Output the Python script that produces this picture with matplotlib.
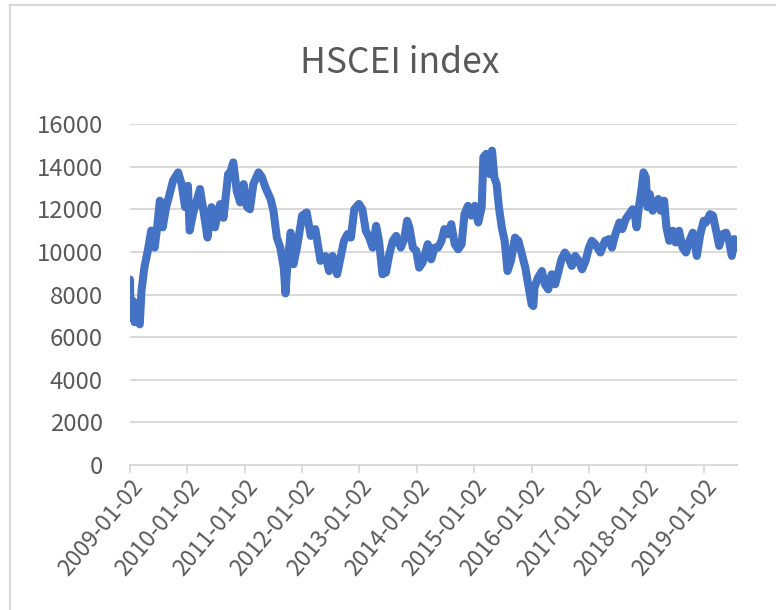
import matplotlib
matplotlib.use("Agg")
import matplotlib.pyplot as plt
from matplotlib.lines import Line2D

# HSCEI daily close (decimal year, index level)
years = [
    2009.00, 2009.01, 2009.05, 2009.08, 2009.11, 2009.14, 2009.17, 2009.20, 2009.25, 2009.31,
    2009.37, 2009.43, 2009.47, 2009.52, 2009.55, 2009.57, 2009.63, 2009.69, 2009.75, 2009.84,
    2009.90, 2009.96, 2010.01, 2010.04, 2010.10, 2010.22, 2010.28, 2010.35, 2010.42, 2010.48,
    2010.57, 2010.63, 2010.71, 2010.74, 2010.80, 2010.86, 2010.92, 2010.98, 2011.04, 2011.09,
    2011.15, 2011.24, 2011.30, 2011.36, 2011.45, 2011.50, 2011.56, 2011.62, 2011.68, 2011.71,
    2011.74, 2011.80, 2011.85, 2011.91, 2012.00, 2012.08, 2012.15, 2012.23, 2012.32, 2012.41,
    2012.47, 2012.53, 2012.58, 2012.61, 2012.67, 2012.73, 2012.79, 2012.85, 2012.91, 2012.99,
    2013.05, 2013.11, 2013.17, 2013.23, 2013.29, 2013.34, 2013.40, 2013.46, 2013.52, 2013.58,
    2013.64, 2013.72, 2013.78, 2013.83, 2013.87, 2013.93, 2013.99, 2014.04, 2014.10, 2014.19,
    2014.25, 2014.31, 2014.37, 2014.43, 2014.48, 2014.54, 2014.60, 2014.66, 2014.72, 2014.78,
    2014.83, 2014.89, 2014.95, 2015.01, 2015.07, 2015.13, 2015.16, 2015.21, 2015.27, 2015.31,
    2015.35, 2015.39, 2015.43, 2015.48, 2015.53, 2015.58, 2015.64, 2015.71, 2015.77, 2015.83,
    2015.89, 2015.94, 2016.00, 2016.03, 2016.05, 2016.11, 2016.18, 2016.23, 2016.29, 2016.35,
    2016.41, 2016.47, 2016.52, 2016.58, 2016.64, 2016.70, 2016.76, 2016.82, 2016.88, 2016.94,
    2017.00, 2017.05, 2017.11, 2017.20, 2017.28, 2017.35, 2017.40, 2017.46, 2017.53, 2017.58,
    2017.64, 2017.70, 2017.76, 2017.79, 2017.83, 2017.87, 2017.92, 2017.95, 2017.99, 2018.02,
    2018.06, 2018.11, 2018.16, 2018.21, 2018.25, 2018.31, 2018.35, 2018.40, 2018.46, 2018.51,
    2018.57, 2018.63, 2018.69, 2018.75, 2018.81, 2018.88, 2018.94, 2019.00, 2019.04, 2019.11,
    2019.16, 2019.21, 2019.27, 2019.33, 2019.39, 2019.44, 2019.49, 2019.53, 2019.58,
]
hscei = [
    8700, 6900, 7700, 6700, 7600, 6800, 6600, 8160, 9260, 10050,
    11000, 10200, 11070, 12400, 12300, 11150, 12100, 12700, 13340, 13730,
    13180, 12100, 13100, 11000, 11800, 12950, 11930, 10670, 12100, 11150,
    12240, 11600, 13650, 13650, 14200, 12870, 12320, 13180, 12100, 12000,
    13180, 13730, 13500, 13030, 12480, 11930, 10670, 10200, 9260, 8050,
    9260, 10900, 9420, 10200, 11700, 11850, 10750, 11070, 9580, 9800,
    9100, 9810, 9420, 8950, 9730, 10520, 10830, 10670, 12000, 12250,
    12000, 10990, 10670, 10200, 11220, 10520, 8950, 9030, 9890, 10520,
    10750, 10200, 10600, 11460, 11150, 10200, 10050, 9260, 9500, 10360,
    9650, 10200, 10200, 10520, 11070, 10830, 11300, 10360, 10120, 10360,
    11770, 12160, 11700, 12160, 11380, 12100, 14440, 14600, 13650, 14750,
    13500, 13180, 12100, 11150, 10520, 9100, 9580, 10670, 10520, 9890,
    9260, 8480, 7540, 7460, 8320, 8790, 9100, 8480, 8240, 8950,
    8480, 9100, 9650, 9970, 9730, 9340, 9810, 9580, 9180, 9580,
    10200, 10520, 10360, 9970, 10520, 10600, 10200, 10830, 11380, 11070,
    11540, 11770, 12000, 11930, 11150, 12100, 13030, 13730, 13500, 12100,
    12710, 11930, 12240, 12480, 11930, 12400, 11150, 10520, 10990, 10440,
    10990, 10200, 9970, 10520, 10900, 9810, 10830, 11460, 11380, 11770,
    11700, 11070, 10280, 10830, 10900, 10520, 9810, 10600, 10200,
]
tick_years = list(range(2009, 2020))
tick_labels = [f"{y}-01-02" for y in tick_years]
y_ticks = list(range(0, 16001, 2000))

plt.rcParams['font.family'] = ['Noto Sans CJK KR', 'DejaVu Sans']
grey_txt = '#595959'
grid_c = '#d9d9d9'

fig = plt.figure(figsize=(7.76, 6.10), dpi=100)
ax = fig.add_axes([130/776, 1-465/610, (737-130)/776, (465-124)/610])

ax.plot(years, hscei, color='#4472C4', lw=5.8, solid_joinstyle='round', solid_capstyle='round')

ax.set_xlim(2009.0, 2019.58)
ax.set_ylim(0, 16000)
ax.set_yticks(y_ticks)
ax.set_yticklabels([str(v) for v in y_ticks], fontsize=17.2, color=grey_txt)
ax.set_xticks(tick_years)
ax.set_xticklabels(tick_labels, fontsize=16.5, color=grey_txt, rotation=50,
                   ha='right', va='top', rotation_mode='anchor')
ax.tick_params(axis='y', length=0, pad=19.5)
ax.tick_params(axis='x', length=6, width=1.3, color=grid_c, pad=1.5)
ax.grid(axis='y', color=grid_c, lw=1.4)
ax.set_axisbelow(True)
for s in ['top', 'right', 'left']:
    ax.spines[s].set_visible(False)
ax.spines['bottom'].set_color(grid_c)
ax.spines['bottom'].set_linewidth(1.4)

fig.text(0.5155, 1-63/610, 'HSCEI index', ha='center', va='center', fontsize=25.5, color=grey_txt)

# outer chart frame (left and top edges only visible in the crop)
fig.add_artist(Line2D([10/776, 10/776], [0, 1-5/610], color=grid_c, lw=1.6, transform=fig.transFigure))
fig.add_artist(Line2D([10/776, 1], [1-5/610, 1-5/610], color=grid_c, lw=1.6, transform=fig.transFigure))

fig.savefig('out.png', dpi=100)
